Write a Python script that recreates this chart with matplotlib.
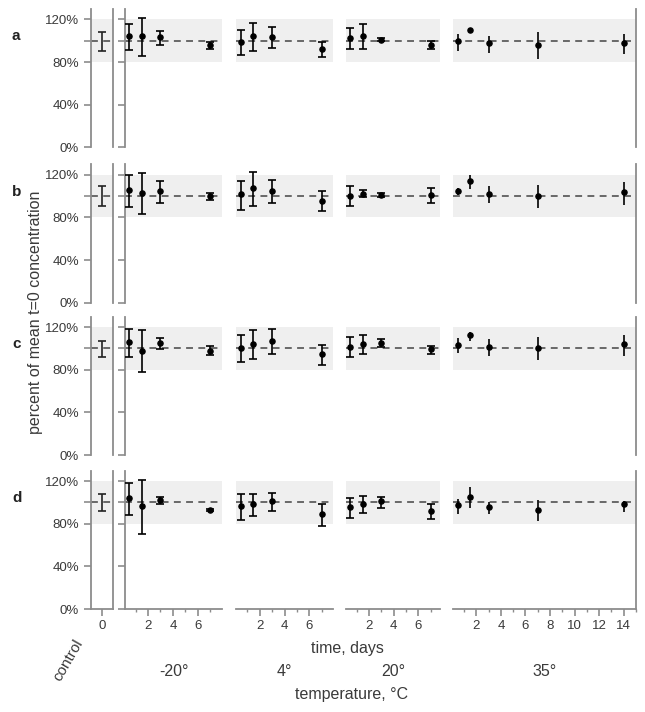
import numpy as np
import matplotlib.pyplot as plt
from matplotlib.ticker import FixedLocator

plt.rcParams['font.family'] = ['Liberation Sans', 'DejaVu Sans']

# ---- data (percent of mean t=0 concentration) ----
rows = ['a', 'b', 'c', 'd']
temps = ['-20°', '4°', '20°', '35°']
days_short = [0.5, 1.5, 3, 7]
days_long = [0.5, 1.5, 3, 7, 14]

ctrl_mean = [100, 100, 100, 100]
ctrl_hi = [108.4, 109.7, 107.1, 108.2]
ctrl_lo = [90.8, 91.1, 92.4, 92.0]

# row a: one list per temperature (-20, 4, 20, 35)
mean_a = [[104.3, 104.0, 103.3, 96.4], [98.6, 104.9, 103.7, 92.4],
          [102.7, 104.9, 101.1, 96.4], [99.5, 109.9, 98.0, 96.4, 98.0]]
hi_a = [[115.9, 120.9, 108.7, 98.6], [109.9, 116.9, 113.1, 98.6],
        [112.2, 115.9, 102.2, 99.5], [106.5, 112.2, 104.9, 108.4, 106.5]]
lo_a = [[91.0, 86.0, 96.4, 92.4], [86.3, 90.8, 92.9, 84.8],
        [92.4, 92.4, 100.0, 92.4], [90.8, 107.4, 88.6, 83.0, 87.9]]

mean_b = [[105.7, 102.6, 104.4, 99.8], [102.0, 107.6, 104.4, 95.8],
          [100.4, 102.0, 101.1, 101.1], [104.4, 114.4, 102.0, 99.8, 103.5]]
hi_b = [[119.7, 121.6, 114.4, 102.6], [114.4, 122.8, 115.0, 105.1],
        [109.1, 105.7, 102.6, 107.6], [107.3, 120.0, 109.7, 110.7, 113.5]]
lo_b = [[90.2, 83.4, 93.6, 96.4], [87.4, 90.4, 93.2, 85.8],
        [91.1, 98.8, 99.6, 93.6], [101.1, 106.8, 93.2, 89.0, 92.0]]

mean_c = [[105.9, 98.0, 105.0, 98.0], [100.8, 104.3, 107.4, 94.6],
          [101.8, 104.3, 105.5, 99.3], [103.4, 112.8, 101.8, 100.3, 104.0]]
hi_c = [[118.1, 117.5, 109.7, 102.4], [112.8, 117.5, 118.4, 103.4],
        [110.6, 112.8, 108.7, 102.7], [109.7, 115.9, 108.7, 110.6, 112.8]]
lo_c = [[92.4, 77.7, 99.3, 94.0], [87.1, 89.9, 94.9, 84.6],
        [92.4, 94.9, 101.8, 94.6], [96.1, 107.4, 93.0, 89.3, 93.0]]

mean_d = [[104.1, 96.4, 102.0, 92.6], [96.4, 98.2, 101.0, 88.9],
          [95.7, 98.9, 101.0, 92.0], [97.3, 105.0, 95.7, 92.6, 98.2]]
hi_d = [[118.5, 121.3, 105.0, 93.6], [108.2, 107.6, 109.2, 98.9],
        [104.1, 106.0, 105.0, 98.9], [103.6, 114.4, 100.4, 102.0, 101.0]]
lo_d = [[87.9, 70.2, 98.9, 91.6], [83.3, 87.3, 91.7, 77.6],
        [85.8, 90.1, 95.1, 84.8], [89.5, 94.8, 88.9, 82.3, 91.0]]

means = [mean_a, mean_b, mean_c, mean_d]
his = [hi_a, hi_b, hi_c, hi_d]
los = [lo_a, lo_b, lo_c, lo_d]

# ---- layout (pixels) ----
W, H = 645, 712
cols = [(91, 22), (125, 97), (236, 97), (346, 94), (453, 183)]
row_bottom = [147.3, 302.7, 455, 609]
ax_h = 138.5
xlims = [(-0.5, 0.5), (0.15, 7.95), (0.1, 7.9), (0.15, 7.75), (0.1, 15.0)]

spine_c = '#8c8c8c'
text_c = '#3a3a3a'
band_c = '#efefef'

fig = plt.figure(figsize=(W / 100, H / 100), dpi=100)


def style(ax, ci, last):
    for s in ax.spines.values():
        s.set_color(spine_c)
        s.set_linewidth(1.3)
    ax.spines['top'].set_visible(False)
    ax.spines['bottom'].set_visible(last)
    ax.spines['left'].set_visible(ci in (0, 1))
    ax.spines['right'].set_visible(ci in (0, 4))
    ax.set_ylim(0, 130)
    ax.set_xlim(*xlims[ci])
    ax.tick_params(colors=spine_c, labelcolor=text_c, labelsize=9.5,
                   width=1.2, length=5, direction='out')
    ax.tick_params(axis='x', which='minor', colors=spine_c, width=1, length=2.5)
    if ci in (0, 1):
        ax.set_yticks([0, 40, 80, 100, 120])
        if ci == 0:
            ax.set_yticklabels(['0%', '40%', '80%', '', '120%'])
        else:
            ax.set_yticklabels([])
    else:
        ax.set_yticks([])
    ax.tick_params(axis='y', right=False)
    if not last:
        ax.set_xticks([])
        ax.xaxis.set_minor_locator(FixedLocator([]))
    elif ci == 0:
        ax.set_xticks([0])
    elif ci < 4:
        ax.set_xticks([2, 4, 6])
        ax.xaxis.set_minor_locator(FixedLocator([1, 3, 5, 7]))
    else:
        ax.set_xticks(np.arange(2, 15, 2))
        ax.xaxis.set_minor_locator(FixedLocator(np.arange(1, 16, 2)))
    ax.tick_params(axis='x', labelsize=9.5, pad=3)


for ri in range(4):
    last = ri == 3
    for ci, (x0, w) in enumerate(cols):
        ax = fig.add_axes([x0 / W, (H - row_bottom[ri]) / H, w / W, ax_h / H])
        ax.patch.set_alpha(0)
        ax.axhspan(80, 120, color=band_c, lw=0, zorder=0)
        ax.axhline(100, color='#444444', lw=1.1, ls=(0, (4.5, 3.5)), zorder=1)
        style(ax, ci, last)
        if ci == 0:
            m = ctrl_mean[ri]
            ax.errorbar([0], [m], yerr=[[m - ctrl_lo[ri]], [ctrl_hi[ri] - m]],
                        fmt='none', ecolor='#222222', elinewidth=1.2,
                        capsize=2.6, capthick=1.2, zorder=3)
            continue
        ti = ci - 1
        days = days_long if ti == 3 else days_short
        m = np.array(means[ri][ti])
        lo = np.array(los[ri][ti])
        hi = np.array(his[ri][ti])
        ax.errorbar(days, m, yerr=[m - lo, hi - m], fmt='o', color='black',
                    markersize=3.7, ecolor='black', elinewidth=1.2,
                    capsize=0 if ti == 3 else 2.6, capthick=1.2, zorder=3)

    fig.text(12 / W, 1 - (row_bottom[ri] - 104 * ax_h / 130) / H, rows[ri],
             fontsize=11, fontweight='bold', color='#222222',
             ha='left', va='center')

fig.text(36 / W, 1 - 312 / H, 'percent of mean t=0 concentration',
         rotation=90, ha='center', va='center', fontsize=11.5, color=text_c)

fig.text(347 / W, 1 - 649 / H, 'time, days', ha='center', va='center',
         fontsize=11.5, color=text_c)
for t, (x0, w) in zip(temps, cols[1:]):
    fig.text((x0 + w / 2) / W, 1 - 672 / H, t, ha='center', va='center',
             fontsize=11.5, color=text_c)
fig.text(352 / W, 1 - 695 / H, 'temperature, °C', ha='center', va='center',
         fontsize=11.5, color=text_c)
fig.text(68 / W, 1 - 660 / H, 'control', rotation=60, ha='center',
         va='center', fontsize=11, color=text_c)

fig.savefig('out.png', dpi=100)
